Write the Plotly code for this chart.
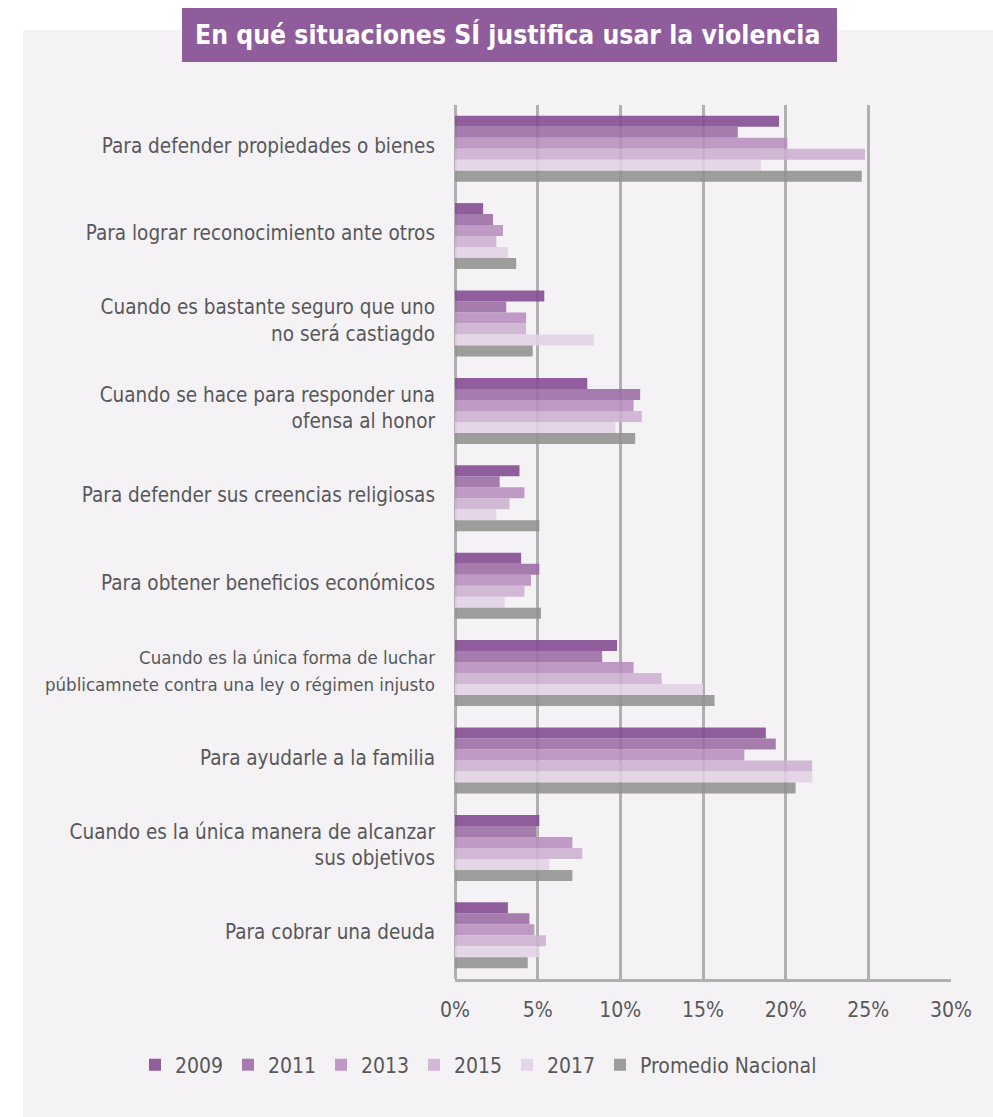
import plotly.graph_objects as go

# Categories, top to bottom
categories = [
    "Para defender propiedades o bienes",
    "Para lograr reconocimiento ante otros",
    "Cuando es bastante seguro que uno<br>no será castiagdo",
    "Cuando se hace para responder una<br>ofensa al honor",
    "Para defender sus creencias religiosas",
    "Para obtener beneficios económicos",
    "<span style='font-size:18.5px'>Cuando es la única forma de luchar<br>"
    "públicamnete contra una ley o régimen injusto</span>",
    "Para ayudarle a la familia",
    "Cuando es la única manera de alcanzar<br>sus objetivos",
    "Para cobrar una deuda",
]

series_names = ["2009", "2011", "2013", "2015", "2017", "Promedio Nacional"]

v2009 = [19.6, 1.7, 5.4, 8.0, 3.9, 4.0, 9.8, 18.8, 5.1, 3.2]
v2011 = [17.1, 2.3, 3.1, 11.2, 2.7, 5.1, 8.9, 19.4, 4.9, 4.5]
v2013 = [20.1, 2.9, 4.3, 10.8, 4.2, 4.6, 10.8, 17.5, 7.1, 4.8]
v2015 = [24.8, 2.5, 4.3, 11.3, 3.3, 4.2, 12.5, 21.6, 7.7, 5.5]
v2017 = [18.5, 3.2, 8.4, 9.7, 2.5, 3.0, 15.0, 21.6, 5.7, 5.1]
promedio = [24.6, 3.7, 4.7, 10.9, 5.1, 5.2, 15.7, 20.6, 7.1, 4.4]

x_ticks = [0, 5, 10, 15, 20, 25, 30]
x_tick_labels = ["0%", "5%", "10%", "15%", "20%", "25%", "30%"]

series_values = [v2009, v2011, v2013, v2015, v2017, promedio]
series_colors = ["#905d9d", "#a67baf", "#bd99c4", "#d1b8d6", "#e3d6e7", "#9d9d9c"]

PANEL = (244, 242, 245)
TEXT = "#58585a"
GRID = "#b0b0b0"
FONT = "DejaVu Sans Condensed, sans-serif"

W, H = 993, 1117
ML, MR, MT, MB = 455, 42, 105, 138
PW, PH = W - ML - MR, H - MT - MB


def translucent(hex_color, alpha=0.88):
    # colour that shows hex_color on the panel while letting grid lines through
    t = [int(hex_color[i:i + 2], 16) for i in (1, 3, 5)]
    c = [max(0, min(255, round((t[k] - (1 - alpha) * PANEL[k]) / alpha))) for k in range(3)]
    return f"rgba({c[0]},{c[1]},{c[2]},{alpha})"


def px_x(px):
    return (px - ML) / PW


def px_y(py):
    return (H - MB - py) / PH


fig = go.Figure()
for name, vals, col in zip(series_names, series_values, series_colors):
    fig.add_trace(go.Bar(
        y=categories, x=vals, name=name, orientation="h",
        marker=dict(color=translucent(col), line=dict(width=0)),
        legendwidth=190 if name == "Promedio Nacional" else None,
    ))

# background panel and title banner
fig.add_shape(type="rect", xref="paper", yref="paper", layer="below",
              x0=px_x(23), x1=px_x(W + 5), y0=px_y(H + 5), y1=px_y(30),
              fillcolor="rgb(244,242,245)", line=dict(width=0))
fig.add_shape(type="rect", xref="paper", yref="paper", layer="below",
              x0=px_x(182), x1=px_x(837), y0=px_y(62), y1=px_y(8),
              fillcolor="#8f5c9c", line=dict(width=0))
fig.add_annotation(xref="paper", yref="paper", x=px_x(507), y=px_y(35),
                   text="<b>En qué situaciones SÍ justifica usar la violencia</b>",
                   showarrow=False, xanchor="center", yanchor="middle",
                   font=dict(family=FONT, size=26.3, color="white"))

fig.update_layout(
    width=W, height=H,
    margin=dict(l=ML, r=MR, t=MT, b=MB, pad=0, autoexpand=False),
    paper_bgcolor="white", plot_bgcolor="rgba(0,0,0,0)",
    barmode="group", bargap=0.245, bargroupgap=0,
    font=dict(family=FONT, color=TEXT, size=20.5),
    showlegend=True,
    legend=dict(orientation="h", x=px_x(135), xanchor="left", y=px_y(1065), yanchor="middle",
                entrywidth=48, entrywidthmode="pixels", traceorder="normal",
                font=dict(family=FONT, size=21, color=TEXT), bgcolor="rgba(0,0,0,0)",
                itemclick=False),
)
fig.update_xaxes(range=[0, 30], tickvals=x_ticks, ticktext=x_tick_labels,
                 showgrid=True, gridcolor=GRID, gridwidth=3,
                 zeroline=True, zerolinecolor=GRID, zerolinewidth=3,
                 showline=True, linecolor=GRID, linewidth=3,
                 ticks="", ticklabelstandoff=10, automargin=False,
                 tickfont=dict(family=FONT, size=21, color=TEXT), fixedrange=True)
fig.update_yaxes(autorange="reversed", showgrid=False, ticks="", showline=False,
                 ticklabelstandoff=19, automargin=False, ticklabelshift=3,
                 tickfont=dict(family=FONT, size=20.5, color=TEXT), fixedrange=True)

fig.write_html("out.html")
